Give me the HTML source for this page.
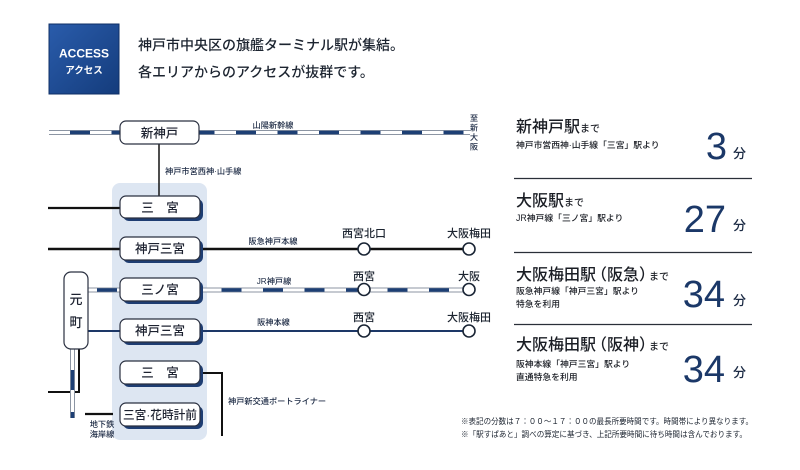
<!DOCTYPE html>
<html><head><meta charset="utf-8">
<style>
html,body{margin:0;padding:0;background:#fff;}
svg{display:block;}
text{font-family:"Liberation Sans","Noto Sans CJK JP",sans-serif;}
</style></head>
<body>
<svg width="800" height="470" viewBox="0 0 800 470" xmlns="http://www.w3.org/2000/svg">
<defs>
<linearGradient id="acc" x1="0" y1="0" x2="1" y2="1">
<stop offset="0" stop-color="#2a5cab"/><stop offset="1" stop-color="#143c7c"/>
</linearGradient>
</defs>
<rect width="800" height="470" fill="#fff"/>

<!-- header -->
<rect x="49" y="24" width="70" height="70" fill="url(#acc)" stroke="#0f2f66" stroke-width="1"/>
<text x="84" y="57.5" font-size="12" fill="#fff" text-anchor="middle" font-weight="bold">ACCESS</text>
<text x="84" y="73.5" font-size="9.5" fill="#fff" text-anchor="middle" font-weight="bold">アクセス</text>
<text x="138" y="50" font-size="14" fill="#1c2430" font-weight="500">神戸市中央区の旗艦ターミナル駅が集結。</text>
<text x="138" y="77" font-size="14" fill="#1c2430" font-weight="500">各エリアからのアクセスが抜群です。</text>

<!-- panel -->
<rect x="112" y="183" width="95" height="257" rx="8" fill="#dde6f2"/>

<!-- Shinkansen striped -->
<line x1="49" y1="132.5" x2="470" y2="132.5" stroke="#8c95a3" stroke-width="5"/>
<line x1="49" y1="132.5" x2="470" y2="132.5" stroke="#fff" stroke-width="3"/>
<line x1="49" y1="132.5" x2="470" y2="132.5" stroke="#1d3f74" stroke-width="3.4" stroke-dasharray="20 21.5" stroke-dashoffset="-21"/>

<!-- Seishin line vertical -->
<line x1="159" y1="144" x2="159" y2="197" stroke="#222" stroke-width="1.6"/>

<!-- Subway Sannomiya left -->
<line x1="48" y1="208" x2="121" y2="208" stroke="#111" stroke-width="2.2"/>
<!-- Hankyu -->
<line x1="48" y1="249" x2="469" y2="249" stroke="#111" stroke-width="2.6"/>
<!-- JR -->
<line x1="88" y1="290" x2="469" y2="290" stroke="#8c95a3" stroke-width="5"/>
<line x1="88" y1="290" x2="469" y2="290" stroke="#fff" stroke-width="3"/>
<line x1="88" y1="290" x2="469" y2="290" stroke="#1d3f74" stroke-width="3.4" stroke-dasharray="20 21.5" stroke-dashoffset="-9"/>
<!-- Hanshin -->
<line x1="88" y1="331" x2="469" y2="331" stroke="#1d3867" stroke-width="2"/>

<!-- Motomachi lower lines -->
<polyline points="79,349 79,392 48,392" fill="none" stroke="#111" stroke-width="2"/>
<line x1="72.5" y1="349" x2="72.5" y2="418" stroke="#8c95a3" stroke-width="5"/>
<line x1="72.5" y1="349" x2="72.5" y2="418" stroke="#fff" stroke-width="3"/>
<line x1="72.5" y1="370" x2="72.5" y2="390" stroke="#1d3f74" stroke-width="3.4"/>
<line x1="72.5" y1="412" x2="72.5" y2="418" stroke="#1d3f74" stroke-width="3.4"/>

<!-- Kaigan line -->
<line x1="85" y1="414" x2="113" y2="414" stroke="#111" stroke-width="2.2"/>
<!-- Port liner -->
<polyline points="202,373 222,373 222,436" fill="none" stroke="#111" stroke-width="2"/>

<!-- circles -->
<g fill="#fff" stroke="#1a2535" stroke-width="1.6">
<circle cx="364" cy="249" r="6"/><circle cx="469" cy="249" r="6"/>
<circle cx="364" cy="289.5" r="6"/><circle cx="469" cy="289.5" r="6"/>
<circle cx="364" cy="331" r="6"/><circle cx="469" cy="331" r="6"/>
</g>

<!-- Motomachi box -->
<rect x="64" y="272" width="24" height="77" rx="7" fill="#fff" stroke="#2a3040" stroke-width="1.2"/>
<text x="76" y="304" font-size="13" text-anchor="middle" fill="#1d2230" font-weight="500">元</text>
<text x="76" y="327" font-size="13" text-anchor="middle" fill="#1d2230" font-weight="500">町</text>

<!-- Shin-Kobe box -->
<rect x="120" y="121" width="79" height="23" rx="6" fill="#fff" stroke="#2a3040" stroke-width="1.2"/>
<text x="159.5" y="137.5" font-size="12.5" text-anchor="middle" fill="#1d2230" font-weight="500">新神戸</text>

<!-- station boxes with shadow -->
<g font-weight="500">
<rect x="123" y="199" width="80" height="22" rx="6" fill="#1e3d72"/>
<rect x="120" y="196" width="80" height="22" rx="6" fill="#fff" stroke="#2a3040" stroke-width="1.2"/>
<text x="160" y="212" font-size="12.5" text-anchor="middle" fill="#1d2230">三　宮</text>

<rect x="123" y="240" width="80" height="23" rx="6" fill="#1e3d72"/>
<rect x="120" y="237" width="80" height="23" rx="6" fill="#fff" stroke="#2a3040" stroke-width="1.2"/>
<text x="160" y="253" font-size="12.5" text-anchor="middle" fill="#1d2230">神戸三宮</text>

<rect x="123" y="281" width="80" height="23" rx="6" fill="#1e3d72"/>
<rect x="120" y="278" width="80" height="23" rx="6" fill="#fff" stroke="#2a3040" stroke-width="1.2"/>
<text x="160" y="294" font-size="12.5" text-anchor="middle" fill="#1d2230">三ノ宮</text>

<rect x="123" y="322" width="80" height="23" rx="6" fill="#1e3d72"/>
<rect x="120" y="319" width="80" height="23" rx="6" fill="#fff" stroke="#2a3040" stroke-width="1.2"/>
<text x="160" y="335" font-size="12.5" text-anchor="middle" fill="#1d2230">神戸三宮</text>

<rect x="123" y="364" width="80" height="23" rx="6" fill="#1e3d72"/>
<rect x="120" y="361" width="80" height="23" rx="6" fill="#fff" stroke="#2a3040" stroke-width="1.2"/>
<text x="160" y="377" font-size="12.5" text-anchor="middle" fill="#1d2230">三　宮</text>

<rect x="123" y="406" width="80" height="23" rx="6" fill="#1e3d72"/>
<rect x="120" y="403" width="80" height="23" rx="6" fill="#fff" stroke="#2a3040" stroke-width="1.2"/>
<text x="160" y="419" font-size="12" text-anchor="middle" fill="#1d2230" textLength="74" lengthAdjust="spacingAndGlyphs">三宮·花時計前</text>
</g>

<!-- line labels -->
<g font-size="8.2" fill="#1c2a44" font-weight="500">
<text x="273" y="128" text-anchor="middle">山陽新幹線</text>
<text x="165" y="174">神戸市営西神·山手線</text>
<text x="273" y="244" text-anchor="middle">阪急神戸本線</text>
<text x="274" y="284" text-anchor="middle">JR神戸線</text>
<text x="273.5" y="325" text-anchor="middle">阪神本線</text>
<text x="228" y="404">神戸新交通ポートライナー</text>
<text x="102" y="427" text-anchor="middle">地下鉄</text>
<text x="102" y="437" text-anchor="middle">海岸線</text>
<text x="474" y="121" text-anchor="middle">至</text>
<text x="474" y="130.5" text-anchor="middle">新</text>
<text x="474" y="140" text-anchor="middle">大</text>
<text x="474" y="149.5" text-anchor="middle">阪</text>
</g>

<!-- station name labels -->
<g font-size="11" fill="#1c2430" text-anchor="middle" font-weight="500">
<text x="364" y="237">西宮北口</text>
<text x="469" y="237">大阪梅田</text>
<text x="364" y="280">西宮</text>
<text x="469" y="280">大阪</text>
<text x="364" y="321">西宮</text>
<text x="469" y="321">大阪梅田</text>
</g>

<!-- right side -->
<g fill="#1a1d24" font-weight="500">
<text x="516" y="132" font-size="16">新神戸駅<tspan font-size="10">まで</tspan></text>
<text x="516" y="148" font-size="8.8">神戸市営西神·山手線「三宮」駅より</text>

<text x="516" y="206" font-size="16">大阪駅<tspan font-size="10">まで</tspan></text>
<text x="516" y="221" font-size="8.8">JR神戸線「三ノ宮」駅より</text>

<text x="516" y="280" font-size="16">大阪梅田駅<tspan dx="-5">（</tspan>阪急）<tspan font-size="10" dx="-6">まで</tspan></text>
<text x="516" y="294" font-size="8.8">阪急神戸線「神戸三宮」駅より</text>
<text x="516" y="307" font-size="8.8">特急を利用</text>

<text x="516" y="350" font-size="16">大阪梅田駅<tspan dx="-5">（</tspan>阪神）<tspan font-size="10" dx="-6">まで</tspan></text>
<text x="516" y="367" font-size="8.8">阪神本線「神戸三宮」駅より</text>
<text x="516" y="380" font-size="8.8">直通特急を利用</text>
</g>

<g stroke="#2a2f38" stroke-width="1.2">
<line x1="514" y1="178.5" x2="752" y2="178.5"/>
<line x1="514" y1="252.5" x2="752" y2="252.5"/>
<line x1="514" y1="324.5" x2="752" y2="324.5"/>
</g>

<g fill="#1b3868">
<text x="727" y="159" font-size="38" text-anchor="end">3</text>
<text x="726" y="232" font-size="38" text-anchor="end">27</text>
<text x="725" y="307" font-size="38" text-anchor="end">34</text>
<text x="725" y="382" font-size="38" text-anchor="end">34</text>
</g>
<g fill="#1b2a44" font-size="13" font-weight="500">
<text x="733" y="158">分</text>
<text x="733" y="230">分</text>
<text x="733" y="305">分</text>
<text x="733" y="377">分</text>
</g>

<!-- footnotes -->
<g font-size="7.8" fill="#1c2430">
<text x="461" y="424" textLength="292" lengthAdjust="spacingAndGlyphs">※表記の分数は７：００～１７：００の最長所要時間です。時間帯により異なります。</text>
<text x="461" y="437" textLength="286" lengthAdjust="spacingAndGlyphs">※「駅すぱあと」調べの算定に基づき、上記所要時間に待ち時間は含んでおります。</text>
</g>
</svg>
</body></html>
